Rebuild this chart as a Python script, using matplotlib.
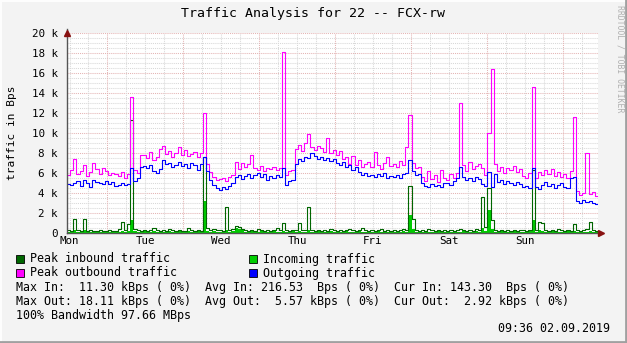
import numpy as np
import matplotlib
matplotlib.use("Agg")
import matplotlib.pyplot as plt
from matplotlib.patches import Rectangle
from matplotlib.lines import Line2D

W, H = 627, 343
MONO = "DejaVu Sans Mono"

days = ["Mon", "Tue", "Wed", "Thu", "Fri", "Sat", "Sun"]

# hourly samples, kBps, one row per day
avg_out = [
    4.9, 4.8, 5.0, 5.2, 4.7, 5.3, 5.0, 4.6, 5.3, 5.1, 5.0, 4.9, 5.2, 4.9, 5.1, 4.7, 4.8, 5.0, 4.8, 4.9, 6.5, 5.2, 5.5, 6.6,
    6.7, 6.5, 6.8, 6.2, 6.0, 6.4, 7.3, 6.9, 7.0, 6.6, 6.8, 7.1, 6.7, 6.9, 6.5, 7.0, 6.8, 6.3, 6.9, 7.6, 6.2, 5.3, 4.8, 4.5,
    4.3, 4.6, 4.4, 4.7, 5.0, 5.6, 5.8, 5.4, 5.7, 5.9, 5.5, 5.8, 6.0, 5.6, 5.9, 5.3, 5.7, 5.5, 5.8, 5.6, 6.5, 4.8, 5.2, 5.3,
    6.9, 7.4, 7.2, 7.6, 7.5, 8.0, 7.7, 7.4, 7.6, 7.3, 7.5, 7.2, 7.4, 7.0, 6.8, 7.1, 6.6, 6.8, 6.3, 6.6, 6.1, 5.8, 6.0, 5.7,
    5.8, 5.6, 5.9, 5.7, 6.0, 5.5, 5.7, 5.6, 5.8, 5.5, 5.9, 6.0, 7.3, 6.2, 5.8, 5.9, 5.0, 4.7, 4.6, 4.9, 4.7, 4.8, 4.6, 5.0,
    5.0, 4.8, 5.2, 5.5, 6.6, 5.6, 5.3, 5.5, 5.2, 5.6, 5.4, 4.9, 4.7, 6.1, 4.6, 5.9, 5.1, 5.3, 4.9, 5.2, 5.0, 4.8, 5.1, 4.9,
    4.6, 4.7, 4.5, 6.5, 4.6, 4.4, 4.8, 5.1, 4.7, 4.9, 4.5, 4.8, 5.0, 4.6, 4.5, 5.5, 5.6, 3.2, 3.0, 3.3, 3.1, 3.2, 3.0, 2.9,
]
peak_out = [
    5.8, 6.3, 7.4, 5.9, 6.2, 6.8, 5.7, 6.1, 7.0, 6.4, 5.9, 6.5, 6.2, 5.8, 6.0, 5.9, 5.7, 6.1, 5.5, 5.9, 13.6, 6.3, 6.0, 7.8,
    7.8, 7.5, 8.1, 7.3, 7.6, 8.4, 8.7, 7.9, 8.2, 7.6, 8.0, 8.6, 7.8, 8.3, 7.7, 7.9, 8.1, 7.6, 8.0, 12.0, 6.9, 6.1, 5.6, 5.3,
    5.4, 5.5, 5.2, 5.6, 5.8, 7.1, 6.4, 7.0, 6.6, 6.9, 7.8, 6.5, 6.3, 6.7, 6.2, 6.5, 6.4, 6.6, 6.3, 6.5, 18.1, 5.8, 6.2, 6.3,
    8.4, 8.8, 8.2, 9.0, 9.9, 8.6, 8.3, 8.7, 8.5, 8.1, 9.5, 8.0, 8.3, 7.8, 8.2, 7.4, 7.6, 6.9, 7.7, 6.8, 7.3, 6.6, 6.9, 7.1,
    6.6, 8.1, 6.8, 6.4, 7.0, 7.6, 6.7, 6.9, 6.6, 7.2, 6.8, 8.6, 11.8, 7.0, 6.5, 6.6, 5.6, 5.2, 6.2, 5.4, 5.8, 5.1, 6.3, 5.5,
    5.3, 5.9, 5.5, 6.0, 13.0, 6.8, 6.2, 7.1, 6.4, 6.7, 6.9, 6.5, 5.8, 10.0, 16.4, 6.9, 6.2, 6.6, 6.0, 6.5, 6.3, 6.7, 6.1, 6.4,
    5.7, 5.5, 6.0, 14.6, 5.5, 6.1, 5.8, 6.3, 5.9, 6.4, 5.7, 6.1, 5.6, 5.9, 5.5, 6.2, 11.6, 4.2, 3.8, 4.0, 8.0, 3.9, 4.1, 3.7,
]
peak_in = [
    0.3, 0.2, 1.4, 0.3, 0.2, 1.4, 0.2, 0.3, 0.2, 0.2, 0.3, 0.2, 0.2, 0.3, 0.2, 0.2, 0.4, 1.1, 0.3, 0.9, 11.3, 0.4, 0.3, 0.2,
    0.3, 0.2, 0.3, 0.5, 0.3, 0.2, 0.3, 0.2, 0.4, 0.3, 0.2, 0.3, 0.2, 0.2, 0.5, 0.3, 0.2, 0.3, 0.2, 7.6, 0.5, 0.3, 0.4, 0.3,
    0.3, 0.2, 2.6, 0.3, 0.4, 0.7, 0.6, 0.4, 0.3, 0.2, 0.3, 0.2, 0.4, 0.3, 0.2, 0.3, 0.2, 0.3, 0.5, 0.3, 1.0, 0.3, 0.2, 0.3,
    0.3, 1.0, 0.3, 0.3, 2.6, 0.3, 0.2, 0.3, 0.2, 0.3, 0.2, 0.4, 0.3, 0.2, 0.3, 0.2, 0.3, 0.4, 0.3, 0.2, 0.3, 0.5, 0.3, 0.2,
    0.3, 0.2, 0.3, 0.4, 0.2, 0.3, 0.2, 0.3, 0.2, 0.3, 0.4, 0.3, 4.7, 1.4, 0.3, 0.2, 0.3, 0.2, 0.4, 0.3, 0.2, 0.3, 0.2, 0.3,
    0.2, 0.3, 0.2, 0.3, 0.4, 0.3, 0.2, 0.3, 0.2, 0.4, 0.3, 3.6, 0.6, 4.5, 1.3, 0.3, 0.2, 0.3, 0.2, 0.3, 0.2, 0.3, 0.2, 0.3,
    0.3, 0.2, 0.3, 6.3, 0.3, 1.1, 1.0, 0.3, 0.2, 0.3, 0.2, 0.4, 0.3, 0.2, 0.3, 0.2, 0.9, 0.3, 0.2, 0.3, 0.4, 1.1, 0.3, 0.2,
]
avg_in = [
    0.1, 0.2, 0.3, 0.1, 0.2, 0.3, 0.1, 0.1, 0.2, 0.1, 0.1, 0.2, 0.1, 0.1, 0.2, 0.1, 0.1, 0.2, 0.1, 0.2, 1.3, 0.2, 0.1, 0.1,
    0.2, 0.1, 0.1, 0.2, 0.1, 0.2, 0.1, 0.1, 0.2, 0.1, 0.1, 0.2, 0.1, 0.1, 0.2, 0.1, 0.1, 0.2, 0.1, 3.2, 0.2, 0.1, 0.2, 0.1,
    0.1, 0.2, 0.3, 0.1, 0.2, 0.5, 0.4, 0.3, 0.1, 0.1, 0.2, 0.1, 0.1, 0.2, 0.1, 0.1, 0.1, 0.2, 0.1, 0.1, 0.2, 0.1, 0.1, 0.2,
    0.1, 0.2, 0.1, 0.1, 0.3, 0.1, 0.1, 0.2, 0.1, 0.1, 0.1, 0.2, 0.1, 0.1, 0.1, 0.1, 0.2, 0.1, 0.1, 0.1, 0.2, 0.1, 0.1, 0.1,
    0.1, 0.1, 0.2, 0.1, 0.1, 0.1, 0.2, 0.1, 0.1, 0.1, 0.2, 0.1, 1.8, 0.4, 0.1, 0.1, 0.1, 0.2, 0.1, 0.1, 0.1, 0.2, 0.1, 0.1,
    0.1, 0.1, 0.2, 0.1, 0.1, 0.2, 0.1, 0.1, 0.1, 0.2, 0.1, 0.5, 0.2, 2.3, 0.4, 0.1, 0.1, 0.2, 0.1, 0.1, 0.1, 0.2, 0.1, 0.1,
    0.1, 0.1, 0.2, 1.3, 0.1, 0.3, 0.2, 0.1, 0.1, 0.2, 0.1, 0.1, 0.1, 0.1, 0.2, 0.1, 0.2, 0.1, 0.1, 0.1, 0.1, 0.2, 0.1, 0.1,
]

legend_rows = [
    ("Peak inbound traffic", "#006600", "Incoming traffic", "#00cc00"),
    ("Peak outbound traffic", "#ff00ff", "Outgoing traffic", "#0000ff"),
]
stats = [
    "Max In:  11.30 kBps ( 0%)  Avg In: 216.53  Bps ( 0%)  Cur In: 143.30  Bps ( 0%)",
    "Max Out: 18.11 kBps ( 0%)  Avg Out:  5.57 kBps ( 0%)  Cur Out:  2.92 kBps ( 0%)",
    "100% Bandwidth 97.66 MBps",
]


def fx(x):
    return x / W


def fy(y):
    return 1 - y / H


def stepped(vals):
    t = np.arange(len(vals) + 1) - 0.8
    return t, np.append(vals, vals[-1])


fig = plt.figure(figsize=(W / 100, H / 100), dpi=100, facecolor="#f3f3f3")
ax = fig.add_axes([fx(67), fy(233), (598 - 67) / W, 200 / H])
ax.set_facecolor("white")
t0, t1 = -0.8, 167.2
ax.set_xlim(t0, t1)
ax.set_ylim(0, 20)

# grid
for v in np.arange(0.5, 20.01, 0.5):
    major = abs(v % 2) < 1e-9
    ax.axhline(v, color="#e4b4b4" if major else "#d8d8d8", lw=0.75,
               ls=(0, (1, 1)), zorder=1)
for h in np.arange(0, 168, 6):
    major = h % 24 == 12
    ax.axvline(h, color="#e4b4b4" if major else "#d8d8d8", lw=0.75,
               ls=(0, (1, 1)), zorder=1)

t, y = stepped(avg_in)
ax.fill_between(t, 0, y, step="post", color="#00cc00", lw=0, zorder=2)
ax.plot(*stepped(peak_in), drawstyle="steps-post", color="#006600", lw=0.8, zorder=3)
ax.plot(*stepped(peak_out), drawstyle="steps-post", color="#ff00ff", lw=0.8, zorder=4)
ax.plot(*stepped(avg_out), drawstyle="steps-post", color="#0000ff", lw=0.8, zorder=5)

for s in ["top", "right"]:
    ax.spines[s].set_visible(False)
for s in ["left", "bottom"]:
    ax.spines[s].set_color("#555555")
    ax.spines[s].set_linewidth(1.0)
    ax.spines[s].set_zorder(6)

# arrows
ax.plot([0], [1.0], marker="^", ms=5, color="#881111", transform=ax.transAxes,
        clip_on=False, zorder=7)
ax.plot([1.005], [0], marker=">", ms=5, color="#881111", transform=ax.transAxes,
        clip_on=False, zorder=7)
ax.plot([0, 0], [1.0, 1.02], color="#555555", lw=1.0, transform=ax.transAxes, clip_on=False)

ax.set_yticks(np.arange(0, 21, 2))
ax.set_yticklabels(["0"] + ["%d k" % v for v in range(2, 21, 2)])
ax.set_xticks(np.arange(7) * 24)
ax.set_xticklabels(days)
ax.tick_params(axis="y", length=0, pad=6.5, labelsize=7.8, labelfontfamily=MONO)
ax.tick_params(axis="x", length=0, pad=2.5, labelsize=7.8, labelfontfamily=MONO)

fig.text(fx(313), fy(13), "Traffic Analysis for 22 -- FCX-rw", fontsize=9.5,
         family=MONO, ha="center", va="center")
fig.text(fx(12), fy(133), "traffic in Bps", fontsize=8, family=MONO,
         rotation=90, ha="center", va="center")
fig.text(fx(620), fy(59), "RRDTOOL / TOBI OETIKER", fontsize=5.9, family=MONO,
         rotation=270, ha="center", va="center", color="#b0b0b0")

for i, (l1, c1, l2, c2) in enumerate(legend_rows):
    yy = 259 + 14 * i
    for x0, lab, col in [(16, l1, c1), (249, l2, c2)]:
        fig.patches.append(Rectangle((fx(x0), fy(yy + 4)), 8 / W, 8 / H, facecolor=col,
                                     edgecolor="black", lw=0.6, transform=fig.transFigure))
        fig.text(fx(x0 + 14), fy(yy), lab, fontsize=8.35, family=MONO, va="center")

for i, line in enumerate(stats):
    fig.text(fx(16), fy(288 + 14 * i), line, fontsize=8.35, family=MONO, va="center")
fig.text(fx(610), fy(329), "09:36 02.09.2019", fontsize=8.35, family=MONO,
         va="center", ha="right")

# frame
fig.add_artist(Line2D([0, 1], [fy(1), fy(1)], color="#fdfdfd", lw=1.5))
fig.add_artist(Line2D([fx(1), fx(1)], [0, 1], color="#fdfdfd", lw=1.5))
fig.add_artist(Line2D([0, 1], [fy(342), fy(342)], color="#a0a0a0", lw=2))
fig.add_artist(Line2D([fx(626), fx(626)], [0, 1], color="#a0a0a0", lw=2))

fig.savefig("out.png", dpi=100, facecolor=fig.get_facecolor())
